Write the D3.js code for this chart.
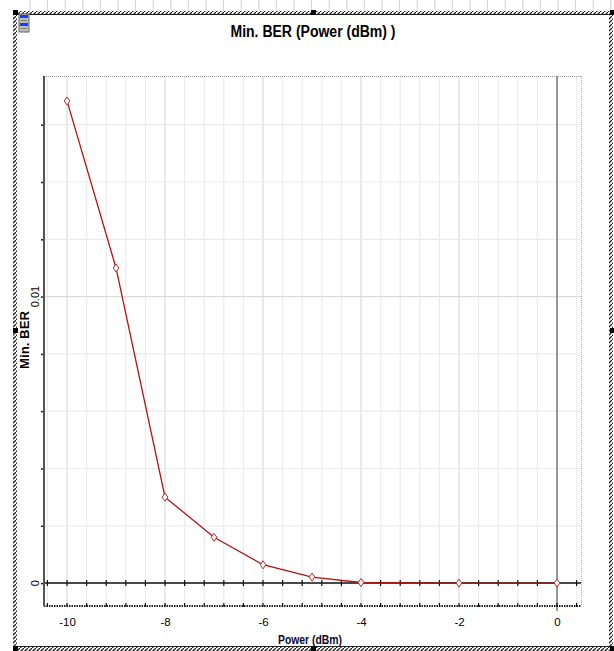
<!DOCTYPE html>
<html>
<head>
<meta charset="utf-8">
<script src="https://cdn.jsdelivr.net/npm/d3@7"></script>
<style>
  html, body { margin: 0; padding: 0; background: #fff; }
  svg { display: block; }
  text { font-family: "Liberation Sans", Arial, sans-serif; }
</style>
</head>
<body>
<svg id="chart" width="614" height="651"></svg>
<script>
// Measured minimum BER against launch power
const power = [-10, -9, -8, -7, -6, -5, -4, -2, 0];
const minBer = [0.01683, 0.0110, 0.0030, 0.0016, 0.00064, 0.00021, 0.00002, 0, 0];
const xTickLabels = [-10, -8, -6, -4, -2, 0];
const yTickLabels = [0, 0.01];

const svg = d3.select("#chart");

// Plot frame
const plotL = 44, plotR = 581, plotT = 76, plotB = 606;
const x = d3.scaleLinear().domain([-10.47, 0.49]).range([plotL, plotR]);
const y = d3.scaleLinear().domain([-0.0008, 0.0177]).range([plotB, plotT]);

// Hatched window border pattern
const defs = svg.append("defs");
const pat = defs.append("pattern")
  .attr("id", "hatch").attr("patternUnits", "userSpaceOnUse")
  .attr("width", 4).attr("height", 4);
pat.append("rect").attr("width", 4).attr("height", 4).attr("fill", "#fff");
pat.append("path").attr("d", "M0,4 L4,0").attr("stroke", "#222").attr("stroke-width", 1.3);

// Ruler ticks along the top edge
svg.append("g").selectAll("line")
  .data(d3.range(30, 612, 17.6))
  .join("line")
  .attr("x1", d => d).attr("x2", d => d)
  .attr("y1", 0).attr("y2", 10)
  .attr("stroke", "#cfcfcf").attr("stroke-width", 1);

svg.append("rect").attr("x", 15).attr("y", 11).attr("width", 597).attr("height", 4).attr("fill", "url(#hatch)");
svg.append("rect").attr("x", 13).attr("y", 12).attr("width", 4).attr("height", 637).attr("fill", "url(#hatch)");
svg.append("rect").attr("x", 609).attr("y", 12).attr("width", 4).attr("height", 637).attr("fill", "url(#hatch)");
svg.append("rect").attr("x", 15).attr("y", 646).attr("width", 597).attr("height", 5).attr("fill", "url(#hatch)");
svg.append("line").attr("x1", 15).attr("x2", 612).attr("y1", 14.5).attr("y2", 14.5).attr("stroke", "#222");
svg.append("line").attr("x1", 15).attr("x2", 612).attr("y1", 646.5).attr("y2", 646.5).attr("stroke", "#222");

// Sizing handles
[[13, 10], [311, 10], [610, 10], [13, 328], [610, 328], [13, 646], [311, 646], [610, 646]]
  .forEach(([hx, hy]) => svg.append("rect").attr("x", hx).attr("y", hy).attr("width", 5).attr("height", 5).attr("fill", "#000"));

// Window icon
const icon = svg.append("g").attr("transform", "translate(19,14)");
icon.append("rect").attr("x", 0).attr("y", 0).attr("width", 10).attr("height", 18).attr("fill", "#bcbcbc").attr("stroke", "#666");
icon.append("rect").attr("x", 1).attr("y", 1).attr("width", 8).attr("height", 3).attr("fill", "#1a3cff");
icon.append("rect").attr("x", 1).attr("y", 9).attr("width", 8).attr("height", 3).attr("fill", "#1a3cff");
icon.append("line").attr("x1", 2).attr("x2", 8).attr("y1", 6.5).attr("y2", 6.5).attr("stroke", "#777");
icon.append("line").attr("x1", 2).attr("x2", 8).attr("y1", 14.5).attr("y2", 14.5).attr("stroke", "#777");

// Title
svg.append("text")
  .attr("x", 313).attr("y", 37)
  .attr("text-anchor", "middle")
  .attr("font-size", 16).attr("font-weight", "bold")
  .attr("textLength", 165).attr("lengthAdjust", "spacingAndGlyphs")
  .text("Min. BER (Power (dBm) )");

// Grid
const xMinor = d3.range(-26, 2).map(i => +(i * 0.4).toFixed(1));
const yMinor = d3.range(0, 9).map(i => +(i * 0.002).toFixed(3));
const grid = svg.append("g");
grid.selectAll(".gx").data(xMinor).join("line")
  .attr("x1", d => x(d)).attr("x2", d => x(d))
  .attr("y1", plotT).attr("y2", plotB)
  .attr("stroke", d => (Math.abs(d % 2) < 1e-6 ? "#dcdcdc" : "#ececec")).attr("stroke-width", 1.2);
grid.selectAll(".gy").data(yMinor).join("line")
  .attr("x1", plotL).attr("x2", plotR)
  .attr("y1", d => y(d)).attr("y2", d => y(d))
  .attr("stroke", d => (Math.abs(d - 0.01) < 1e-9 ? "#dcdcdc" : "#ececec")).attr("stroke-width", 1.2);

// Dotted plot borders
svg.append("line").attr("x1", plotL).attr("x2", plotR).attr("y1", plotT + 0.5).attr("y2", plotT + 0.5)
  .attr("stroke", "#999").attr("stroke-dasharray", "1,1");
svg.append("line").attr("x1", plotR + 0.5).attr("x2", plotR + 0.5).attr("y1", plotT).attr("y2", plotB)
  .attr("stroke", "#aaa").attr("stroke-dasharray", "1,1");

// Vertical line at 0 dBm
svg.append("line").attr("x1", x(0)).attr("x2", x(0)).attr("y1", plotT).attr("y2", plotB + 5)
  .attr("stroke", "#7a7a7a").attr("stroke-width", 1.5);

// Bottom axis
const xAxis = d3.axisBottom(x).tickValues(xTickLabels).tickSize(0).tickPadding(12)
  .tickFormat(d => String(d));
const gx = svg.append("g").attr("transform", `translate(0,${plotB})`).call(xAxis);
gx.select(".domain").remove();
gx.selectAll("text").attr("font-size", 11.5).attr("fill", "#000").attr("font-family", "Liberation Sans, Arial, sans-serif");
svg.append("line").attr("x1", plotL).attr("x2", plotR).attr("y1", plotB).attr("y2", plotB)
  .attr("stroke", "#222").attr("stroke-width", 2).attr("stroke-dasharray", "1.5,1");
svg.append("g").selectAll("line").data(xMinor).join("line")
  .attr("x1", d => x(d)).attr("x2", d => x(d))
  .attr("y1", plotB - 3).attr("y2", plotB + 1)
  .attr("stroke", "#111").attr("stroke-width", 1.2);

// Zero line with ticks
svg.append("line").attr("x1", plotL).attr("x2", plotR).attr("y1", y(0)).attr("y2", y(0))
  .attr("stroke", "#111").attr("stroke-width", 1.5);
svg.append("g").selectAll("line").data(xMinor).join("line")
  .attr("x1", d => x(d)).attr("x2", d => x(d))
  .attr("y1", y(0) - 3).attr("y2", y(0) + 3)
  .attr("stroke", "#111").attr("stroke-width", 1.2);

// Left axis
const yAxis = d3.axisLeft(y).tickValues(yMinor).tickSize(3).tickFormat("");
const gy = svg.append("g").attr("transform", `translate(${plotL},0)`).call(yAxis);
gy.select(".domain").remove();
gy.selectAll(".tick line").attr("stroke", "#222").attr("stroke-width", 1.5);
svg.append("line").attr("x1", plotL).attr("x2", plotL).attr("y1", plotT).attr("y2", plotB)
  .attr("stroke", "#555").attr("stroke-width", 2);
svg.append("g").selectAll("text").data(yTickLabels).join("text")
  .attr("transform", d => `translate(39,${y(d)}) rotate(-90)`)
  .attr("text-anchor", "middle")
  .attr("font-size", 11)
  .text(d => (d === 0 ? "0" : d3.format(".2f")(d)));

// Axis titles
svg.append("text")
  .attr("x", 310).attr("y", 644)
  .attr("text-anchor", "middle")
  .attr("font-size", 12).attr("font-weight", "bold").attr("fill", "#0a0a2a")
  .attr("textLength", 64).attr("lengthAdjust", "spacingAndGlyphs")
  .text("Power (dBm)");
svg.append("text")
  .attr("transform", "translate(29,340) rotate(-90)")
  .attr("text-anchor", "middle")
  .attr("font-size", 12).attr("font-weight", "bold")
  .attr("textLength", 58).attr("lengthAdjust", "spacingAndGlyphs")
  .text("Min. BER");

// Series
const pts = power.map((p, i) => [p, minBer[i]]);
svg.append("path")
  .datum(pts)
  .attr("fill", "none")
  .attr("stroke", "#b01414").attr("stroke-width", 1.3)
  .attr("d", d3.line().x(d => x(d[0])).y(d => y(d[1])));
svg.append("g").selectAll("path").data(pts).join("path")
  .attr("transform", d => `translate(${x(d[0])},${y(d[1])})`)
  .attr("d", "M0,-4 L2.8,0 L0,4 L-2.8,0 Z")
  .attr("fill", "#fff").attr("stroke", "#c0282a").attr("stroke-width", 1);
</script>
</body>
</html>
